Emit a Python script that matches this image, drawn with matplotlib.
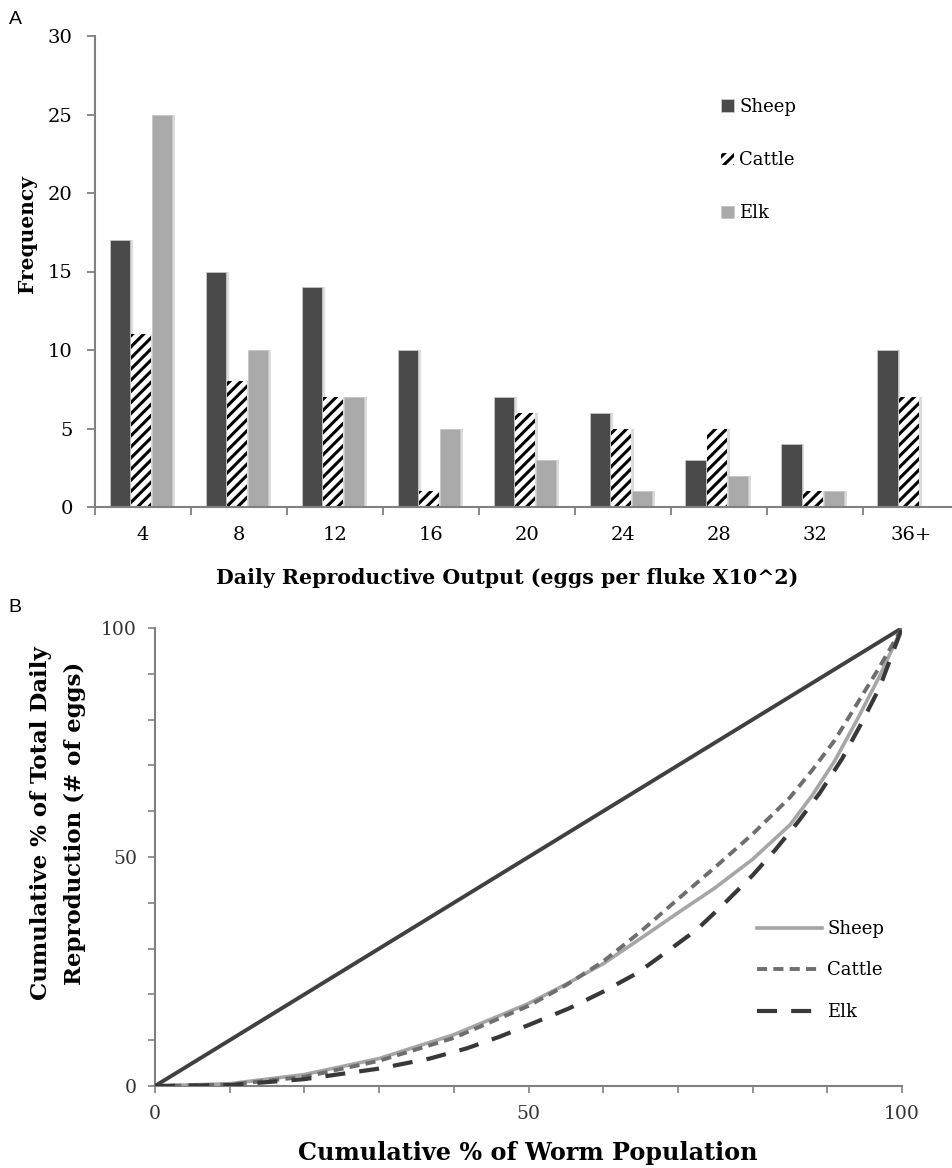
import numpy as np
import matplotlib.pyplot as plt
from matplotlib.patches import Patch

# panel A: frequency of daily reproductive output
bins = ['4', '8', '12', '16', '20', '24', '28', '32', '36+']
sheep_freq = [17, 15, 14, 10, 7, 6, 3, 4, 10]
cattle_freq = [11, 8, 7, 1, 6, 5, 5, 1, 7]
elk_freq = [25, 10, 7, 5, 3, 1, 2, 1, 0]

# panel B: Lorenz curves (cumulative % worms vs cumulative % eggs)
sheep_x = [0, 10, 20, 30, 40, 50, 55, 60, 65, 70, 75, 80, 85, 88, 91, 94, 97, 100]
sheep_y = [0, 0.5, 2.5, 6, 11.2, 18, 22.2, 26.7, 32.2, 37.8, 43.3, 49.5, 57, 63.5, 71, 80, 89.5, 100]
cattle_x = [0, 10, 20, 30, 40, 50, 55, 60, 65, 70, 75, 80, 85, 88, 91, 94, 97, 100]
cattle_y = [0, 0.3, 2.0, 5.5, 10.5, 17.5, 22, 27.2, 33.7, 40.8, 47.8, 55, 63, 69, 75.5, 83.5, 91.5, 100]
elk_x = [0, 10, 20, 30, 36.8, 41.7, 46.2, 50.6, 55.5, 60, 64.5, 68.5, 72.5, 76, 80, 83, 86, 89,
         92, 94.5, 97, 98.5, 100]
elk_y = [0, 0.2, 1.5, 3.8, 6.0, 8.2, 10.8, 13.7, 17, 20.6, 24.6, 29.3, 34.1, 39.5, 46, 51.5, 57.5, 64,
         71.5, 79, 87, 93.5, 100]
equal_x = [0, 100]
equal_y = [0, 100]

plt.rcParams['font.family'] = ['DejaVu Serif']
plt.rcParams['hatch.linewidth'] = 2.2
W, H = 953, 1168
fig = plt.figure(figsize=(W / 100, H / 100), dpi=100)

def px(x0, y0, x1, y1):
    return [x0 / W, 1 - y1 / H, (x1 - x0) / W, (y1 - y0) / H]

axis_col = '#808080'

# ---------- panel A ----------
axA = fig.add_axes(px(95, 36, 953, 507))
x = np.arange(len(bins))
bw = 0.215
offs = [-0.24, -0.02, 0.2]
series = [(sheep_freq, '#4a4a4a', None), (cattle_freq, 'white', '///'), (elk_freq, '#aaaaaa', None)]
for (vals, col, hatch), off in zip(series, offs):
    # soft shadow to the right
    axA.bar(x + off + 0.025, vals, bw, color='#dcdcdc', lw=0, zorder=1)
    if hatch:
        axA.bar(x + off, vals, bw, color='white', edgecolor='black', hatch=hatch, lw=0, zorder=2)
    else:
        axA.bar(x + off, vals, bw, color=col, edgecolor='#c8c8c8', lw=0.6, zorder=2)

axA.set_xlim(-0.5, 8.44)
axA.set_ylim(0, 30)
axA.set_yticks(range(0, 31, 5))
axA.set_xticks(x)
axA.set_xticklabels(bins)
axA.set_xticks(np.arange(-0.5, 8.5, 1), minor=True)
axA.tick_params(axis='x', which='major', length=0, labelsize=14, pad=14)
axA.tick_params(axis='x', which='minor', length=6, width=1.3, color=axis_col, direction='out')
axA.tick_params(axis='y', length=6, width=1.3, color=axis_col, labelsize=14, pad=10)
for s in ['top', 'right']:
    axA.spines[s].set_visible(False)
for s in ['left', 'bottom']:
    axA.spines[s].set_color(axis_col)
    axA.spines[s].set_linewidth(1.5)

handlesA = [Patch(facecolor='#4a4a4a', edgecolor='#c8c8c8', lw=0.6, label='Sheep'),
            Patch(facecolor='white', edgecolor='black', hatch='///', lw=0, label='Cattle'),
            Patch(facecolor='#aaaaaa', edgecolor='#c8c8c8', lw=0.6, label='Elk')]
fig.legend(handles=handlesA, loc='upper left', bbox_to_anchor=(721 / W, 1 - 98 / H),
           frameon=False, fontsize=13, handlelength=0.7, handleheight=0.7,
           handletextpad=0.3, labelspacing=1.95, borderpad=0, borderaxespad=0)

fig.text(507 / W, 1 - 578 / H, 'Daily Reproductive Output (eggs per fluke X10^2)',
         ha='center', va='center', fontsize=14.8, fontweight='bold')
fig.text(27 / W, 1 - 234 / H, 'Frequency', ha='center', va='center', rotation=90,
         fontsize=14.5, fontweight='bold')
fig.text(15 / W, 1 - 20 / H, 'A', ha='center', va='center', fontsize=14, family='Liberation Sans')

# ---------- panel B ----------
axB = fig.add_axes(px(155, 628, 902, 1086))
axB.plot(equal_x, equal_y, color='#404040', lw=2.8, solid_capstyle='butt', zorder=3)
axB.plot(sheep_x, sheep_y, color='#a6a6a6', lw=2.6, label='Sheep', zorder=4)
axB.plot(cattle_x, cattle_y, color='#6e6e6e', lw=2.8, ls=(0, (2.6, 1.6)), label='Cattle', zorder=4)
axB.plot(elk_x, elk_y, color='#383838', lw=3.0, ls=(0, (4.8, 3.4)), label='Elk', zorder=4)
axB.set_xlim(0, 100)
axB.set_ylim(0, 100)
axB.set_xticks([0, 50, 100])
axB.set_yticks([0, 50, 100])
axB.set_xticks(range(0, 101, 10), minor=True)
axB.set_yticks(range(0, 101, 10), minor=True)
axB.tick_params(which='both', length=5, width=1.2, color=axis_col, direction='out')
axB.tick_params(labelsize=13.5, labelcolor='#333333')
axB.tick_params(axis='x', pad=9)
axB.tick_params(axis='y', pad=8)
for s in ['top', 'right']:
    axB.spines[s].set_visible(False)
for s in ['left', 'bottom']:
    axB.spines[s].set_color(axis_col)
    axB.spines[s].set_linewidth(1.5)

hB, lB = axB.get_legend_handles_labels()
fig.legend(hB, lB, loc='upper left', bbox_to_anchor=(757 / W, 1 - 920 / H),
           frameon=False, fontsize=13, handlelength=3.6, handletextpad=0.3,
           labelspacing=1.3, borderpad=0, borderaxespad=0)

fig.text(528 / W, 1 - 1153 / H, 'Cumulative % of Worm Population',
         ha='center', va='center', fontsize=17.2, fontweight='bold')
fig.text(58 / W, 1 - 823 / H, 'Cumulative % of Total Daily\nReproduction (# of eggs)',
         ha='center', va='center', rotation=90, fontsize=16.5, fontweight='bold',
         linespacing=1.65)
fig.text(15 / W, 1 - 607 / H, 'B', ha='center', va='center', fontsize=14, family='Liberation Sans')

plt.savefig('out.png', dpi=100)
